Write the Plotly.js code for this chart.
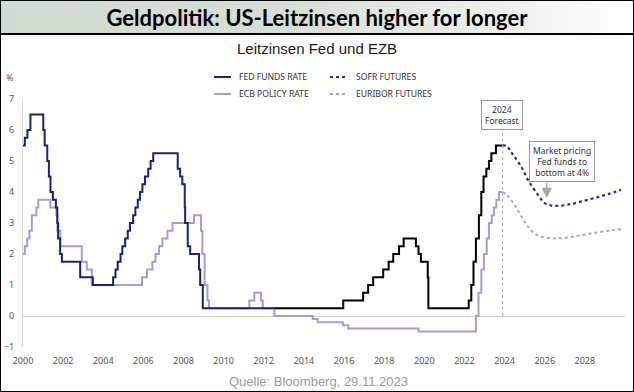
<!DOCTYPE html>
<html>
<head>
<meta charset="utf-8">
<script src="https://cdn.plot.ly/plotly-3.0.1.min.js"></script>
<style>
  html, body { margin: 0; padding: 0; background: #fff; }
  #wrap { position: relative; width: 634px; height: 392px; overflow: hidden; }
  #frame { position: absolute; left: 0; top: 0; width: 634px; height: 392px; box-sizing: border-box; border: 1px solid #000; }
  #band { position: absolute; left: 1px; top: 1px; width: 632px; height: 34px; box-sizing: border-box;
          background: linear-gradient(to right, #d2dbd2 0%, #d6ded6 45%, #e9eee9 75%, #ffffff 100%);
          border-bottom: 2px solid #000; }
  #chart { position: absolute; left: 0; top: 0; width: 634px; height: 392px; }
</style>
</head>
<body>
<div id="wrap">
  <div id="band"></div>
  <div id="frame"></div>
  <div id="chart"></div>
</div>
<script>
// ---------------- DATA ----------------
// Fed funds target (upper bound), change dates as decimal years
const fedDates = [2000.0, 2000.09, 2000.22, 2000.37,
  2001.01, 2001.08, 2001.21, 2001.29, 2001.37, 2001.49, 2001.64, 2001.71, 2001.75, 2001.85, 2001.94,
  2002.85, 2003.48,
  2004.49, 2004.61, 2004.72, 2004.86, 2004.95,
  2005.09, 2005.22, 2005.33, 2005.49, 2005.60, 2005.72, 2005.83, 2005.95,
  2006.08, 2006.24, 2006.36, 2006.49,
  2007.71, 2007.83, 2007.94,
  2008.06, 2008.08, 2008.21, 2008.33, 2008.77, 2008.83, 2008.96,
  2012.53,
  2015.96, 2016.95, 2017.20, 2017.45, 2017.95, 2018.22, 2018.45, 2018.74, 2018.97,
  2019.58, 2019.71, 2019.83, 2020.17, 2020.20,
  2022.21, 2022.34, 2022.45, 2022.57, 2022.72, 2022.84, 2022.95,
  2023.09, 2023.22, 2023.34, 2023.57, 2023.90];
const fedRates = [5.5, 5.75, 6.0, 6.5,
  6.0, 5.5, 5.0, 4.5, 4.0, 3.75, 3.5, 3.0, 2.5, 2.0, 1.75,
  1.25, 1.0,
  1.25, 1.5, 1.75, 2.0, 2.25,
  2.5, 2.75, 3.0, 3.25, 3.5, 3.75, 4.0, 4.25,
  4.5, 4.75, 5.0, 5.25,
  4.75, 4.5, 4.25,
  3.5, 3.0, 2.25, 2.0, 1.5, 1.0, 0.25,
  0.25,
  0.5, 0.75, 1.0, 1.25, 1.5, 1.75, 2.0, 2.25, 2.5,
  2.25, 2.0, 1.75, 1.25, 0.25,
  0.5, 1.0, 1.75, 2.5, 3.25, 4.0, 4.5,
  4.75, 5.0, 5.25, 5.5, 5.5];
const fedColorSwitch = 2012.53; // line drawn navy before, black after

// ECB deposit rate
const ecbDates = [2000.0, 2000.09, 2000.21, 2000.32, 2000.44, 2000.67, 2000.76,
  2001.36, 2001.66, 2001.71, 2001.86,
  2002.93, 2003.18, 2003.43,
  2005.93, 2006.18, 2006.45, 2006.60, 2006.78, 2006.95, 2007.20, 2007.45,
  2008.52, 2008.87, 2008.94, 2009.05, 2009.19, 2009.27,
  2011.28, 2011.53, 2011.86, 2011.95, 2012.53,
  2014.44, 2014.69, 2015.94, 2016.21, 2019.71,
  2022.57, 2022.70, 2022.84, 2022.97,
  2023.11, 2023.22, 2023.36, 2023.47, 2023.59, 2023.72, 2023.90];
const ecbRates = [2.0, 2.25, 2.5, 2.75, 3.25, 3.5, 3.75,
  3.5, 3.25, 2.75, 2.25,
  1.75, 1.5, 1.0,
  1.25, 1.5, 1.75, 2.0, 2.25, 2.5, 2.75, 3.0,
  3.25, 2.75, 2.0, 1.0, 0.5, 0.25,
  0.5, 0.75, 0.5, 0.25, 0.0,
  -0.1, -0.2, -0.3, -0.4, -0.5,
  0.0, 0.75, 1.5, 2.0,
  2.5, 3.0, 3.25, 3.5, 3.75, 4.0, 4.0];

// Futures-implied paths
const sofrDates = [2023.90, 2024.10, 2024.40, 2024.83, 2025.20, 2025.67, 2026.00, 2026.30, 2026.80, 2027.30, 2027.80, 2028.50, 2029.15, 2029.80];
const sofrRates = [5.50, 5.48, 5.22, 4.82, 4.35, 3.90, 3.64, 3.57, 3.56, 3.61, 3.69, 3.81, 3.93, 4.07];
const euriborDates = [2023.90, 2024.15, 2024.50, 2024.85, 2025.17, 2025.50, 2025.82, 2026.30, 2026.80, 2027.50, 2028.20, 2029.00, 2029.80];
const euriborRates = [4.00, 3.88, 3.58, 3.20, 2.88, 2.66, 2.56, 2.51, 2.51, 2.57, 2.65, 2.73, 2.80];

const forecastStart = 2023.9;
const xTickVals = [2000, 2002, 2004, 2006, 2008, 2010, 2012, 2014, 2016, 2018, 2020, 2022, 2024, 2026, 2028];
const yTickVals = [-1, 0, 1, 2, 3, 4, 5, 6, 7];

const legendLabels = ['FED FUNDS RATE', 'ECB POLICY RATE', 'SOFR FUTURES', 'EURIBOR FUTURES'];
const titleText = 'Geldpolitik: US-Leitzinsen higher for longer';
const subtitleText = 'Leitzinsen Fed und EZB';
const sourceText = 'Quelle: Bloomberg, 29.11.2023';

// ---------------- STYLE / LAYOUT ----------------
const COL_FED = '#1f1f7c', COL_FED2 = '#000000', COL_ECB = '#a29ed8', COL_SOFR = '#2b2b8e', COL_EUR = '#a6a2e2';
const FW = 634, FH = 392, L = 23, R = 9, T = 99, B = 45;
const PW = FW - L - R, PH = FH - T - B;
const px = x => (x - L) / PW;
const py = y => (FH - B - y) / PH;

// split Fed series by colour
const fedA_x = [], fedA_y = [], fedB_x = [], fedB_y = [];
fedDates.forEach((d, i) => {
  if (d <= fedColorSwitch) { fedA_x.push(d); fedA_y.push(fedRates[i]); }
  if (d >= fedColorSwitch) { fedB_x.push(d); fedB_y.push(fedRates[i]); }
});

const traces = [
  {x: ecbDates, y: ecbRates, type: 'scatter', mode: 'lines', line: {color: COL_ECB, width: 2, shape: 'hv'}, name: 'ECB Policy Rate', showlegend: false, hoverinfo: 'skip'},
  {x: euriborDates, y: euriborRates, type: 'scatter', mode: 'lines', line: {color: COL_EUR, width: 2, dash: 'dot', shape: 'spline'}, name: 'Euribor Futures', showlegend: false},
  {x: fedA_x, y: fedA_y, type: 'scatter', mode: 'lines', line: {color: COL_FED, width: 2, shape: 'hv'}, name: 'Fed Funds Rate', showlegend: false},
  {x: fedB_x, y: fedB_y, type: 'scatter', mode: 'lines', line: {color: COL_FED2, width: 2, shape: 'hv'}, name: 'Fed Funds Rate', showlegend: false},
  {x: sofrDates, y: sofrRates, type: 'scatter', mode: 'lines', line: {color: COL_SOFR, width: 2.2, dash: 'dot', shape: 'spline'}, name: 'SOFR Futures', showlegend: false}
];

const tickFont = {family: 'Noto Sans, DejaVu Sans, sans-serif', size: 9, color: '#555'};
const legFont = {family: 'Noto Sans, DejaVu Sans, sans-serif', size: 8.6, color: '#333'};

const shapes = [
  // forecast divider
  {type: 'line', xref: 'x', yref: 'y', x0: forecastStart, x1: forecastStart, y0: 0, y1: 6.1, line: {color: '#aaaaaa', width: 1, dash: 'dot'}},
  // legend samples
  {type: 'line', xref: 'paper', yref: 'paper', x0: px(214), x1: px(231), y0: py(77), y1: py(77), line: {color: COL_FED, width: 2}},
  {type: 'line', xref: 'paper', yref: 'paper', x0: px(214), x1: px(231), y0: py(94), y1: py(94), line: {color: COL_ECB, width: 2}},
  {type: 'line', xref: 'paper', yref: 'paper', x0: px(330), x1: px(345), y0: py(77), y1: py(77), line: {color: COL_SOFR, width: 2, dash: 'dot'}},
  {type: 'line', xref: 'paper', yref: 'paper', x0: px(330), x1: px(345), y0: py(94), y1: py(94), line: {color: COL_EUR, width: 2, dash: 'dot'}}
];

const annotations = [
  {xref: 'paper', yref: 'paper', x: px(317), y: py(48), text: subtitleText, showarrow: false, xanchor: 'center', yanchor: 'middle',
   font: {family: 'Liberation Sans, Arial, sans-serif', size: 15, color: '#1a1a1a'}},
  {xref: 'paper', yref: 'paper', x: px(318), y: py(381), text: sourceText, showarrow: false, xanchor: 'center', yanchor: 'middle',
   font: {family: 'Liberation Sans, Arial, sans-serif', size: 13, color: '#9a9a9a'}},
  {xref: 'paper', yref: 'paper', x: px(10), y: py(77), text: '%', showarrow: false, xanchor: 'center', yanchor: 'middle', font: tickFont},
  // legend labels
  {xref: 'paper', yref: 'paper', x: px(237), y: py(77), text: legendLabels[0], showarrow: false, xanchor: 'left', yanchor: 'middle', font: legFont},
  {xref: 'paper', yref: 'paper', x: px(237), y: py(94), text: legendLabels[1], showarrow: false, xanchor: 'left', yanchor: 'middle', font: legFont},
  {xref: 'paper', yref: 'paper', x: px(354), y: py(77), text: legendLabels[2], showarrow: false, xanchor: 'left', yanchor: 'middle', font: legFont},
  {xref: 'paper', yref: 'paper', x: px(354), y: py(94), text: legendLabels[3], showarrow: false, xanchor: 'left', yanchor: 'middle', font: legFont},
  // boxes
  {xref: 'x', yref: 'y', x: 2023.85, y: 6.5, text: '2024<br>Forecast', showarrow: false, xanchor: 'center', yanchor: 'middle',
   bordercolor: '#999', borderwidth: 1, borderpad: 3, bgcolor: '#fff', font: {family: 'Noto Sans, sans-serif', size: 8.5, color: '#333'}},
  {xref: 'x', yref: 'y', x: 2026.88, y: 4.97, text: 'Market pricing<br>Fed funds to<br>bottom at 4%', showarrow: false, xanchor: 'center', yanchor: 'middle',
   bordercolor: '#999', borderwidth: 1, borderpad: 3, bgcolor: '#fff', font: {family: 'Noto Sans, sans-serif', size: 8.5, color: '#333'}},
  {xref: 'x', yref: 'y', x: 2026.1, y: 3.8, text: '', showarrow: true, ax: 0, ay: -17, arrowcolor: '#aaaaaa', arrowhead: 2, arrowsize: 1.4, arrowwidth: 1.5, standoff: 0}
];

const layout = {
  width: FW, height: FH,
  margin: {l: L, r: R, t: T, b: B, pad: 0},
  paper_bgcolor: 'rgba(0,0,0,0)', plot_bgcolor: 'rgba(0,0,0,0)',
  showlegend: false,
  title: {text: titleText, x: 0.5, xref: 'container', xanchor: 'center', y: 1 - 18 / FH, yref: 'container', yanchor: 'middle',
          font: {family: 'Lato, Noto Sans, sans-serif', size: 22, color: '#000', weight: 'bold'}},
  xaxis: {range: [2000, 2030], tickvals: xTickVals, ticktext: xTickVals.map(String), showgrid: false, zeroline: false, showline: false,
          ticks: '', tickfont: tickFont, ticklabelstandoff: 7, fixedrange: true},
  yaxis: {range: [-1, 7], tickvals: yTickVals, showgrid: false, zeroline: true, zerolinecolor: '#cfcfcf', zerolinewidth: 1,
          showline: true, linecolor: '#d6d6d6', linewidth: 1, ticks: '', tickfont: tickFont, ticklabelstandoff: 6, fixedrange: true},
  shapes: shapes,
  annotations: annotations
};

Plotly.newPlot('chart', traces, layout, {displayModeBar: false, staticPlot: true});
</script>
</body>
</html>
